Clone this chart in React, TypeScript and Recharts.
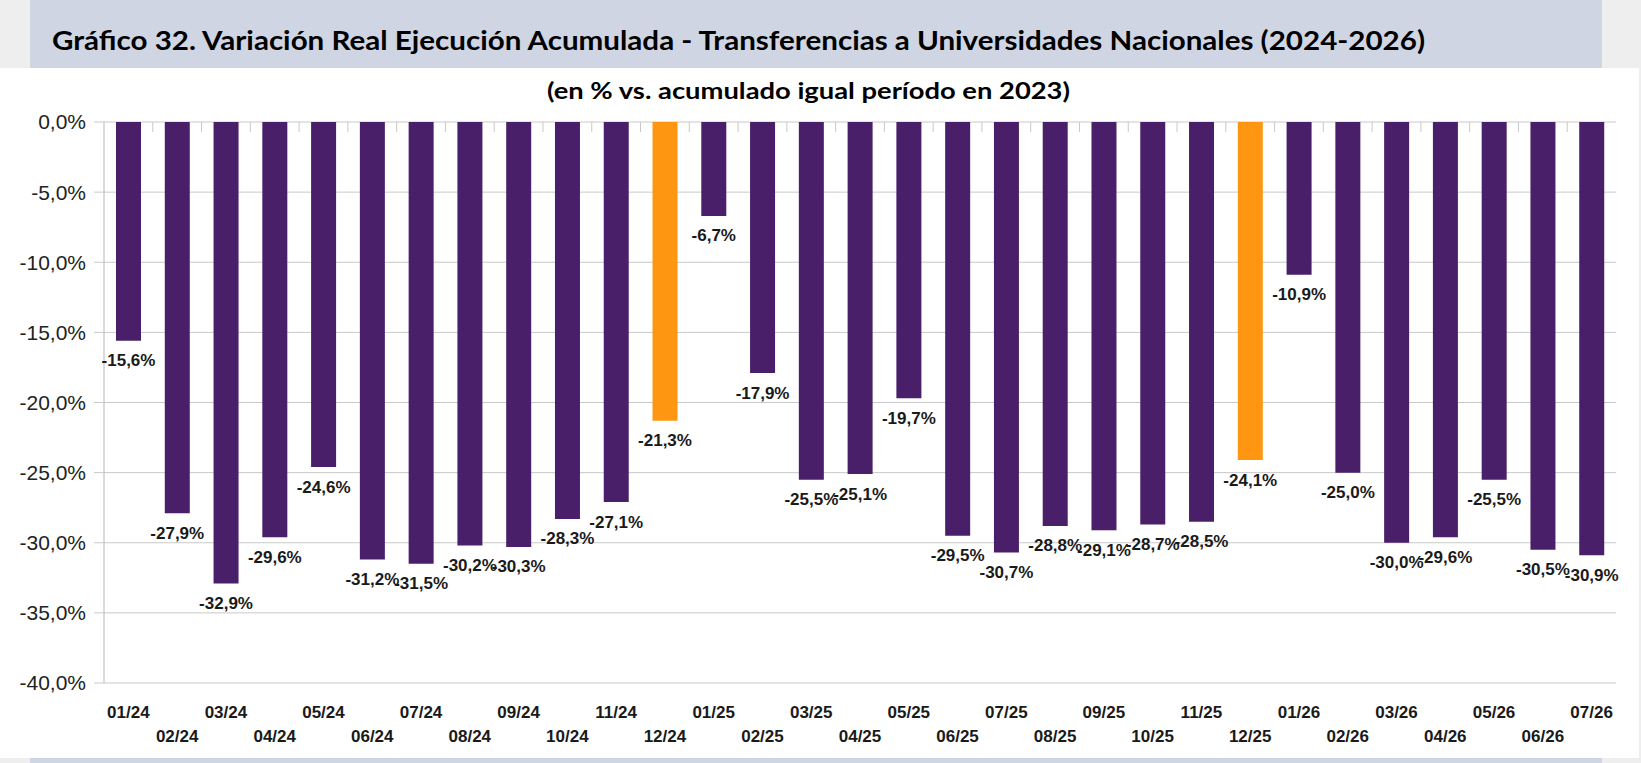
import { BarChart, Bar, XAxis, YAxis, CartesianGrid, Cell, LabelList } from 'recharts';

// Meses (ejecución acumulada)
const months = [
  '01/24', '02/24', '03/24', '04/24', '05/24', '06/24', '07/24', '08/24', '09/24', '10/24', '11/24', '12/24',
  '01/25', '02/25', '03/25', '04/25', '05/25', '06/25', '07/25', '08/25', '09/25', '10/25', '11/25', '12/25',
  '01/26', '02/26', '03/26', '04/26', '05/26', '06/26', '07/26',
];

// Variación real % vs. acumulado igual período 2023
const variation = [
  -15.6, -27.9, -32.9, -29.6, -24.6, -31.2, -31.5, -30.2, -30.3, -28.3, -27.1, -21.3,
  -6.7, -17.9, -25.5, -25.1, -19.7, -29.5, -30.7, -28.8, -29.1, -28.7, -28.5, -24.1,
  -10.9, -25.0, -30.0, -29.6, -25.5, -30.5, -30.9,
];

// Cierres de año (barras naranjas)
const yearEnds = ['12/24', '12/25'];

const yTicks = [0, -5, -10, -15, -20, -25, -30, -35, -40];
const boundaryTicks = months.slice(1).map((_, i) => i + 1);

const PURPLE = '#4a1f6a';
const ORANGE = '#ff9612';
const GRID = '#c9c9c9';

const chartData = months.map((m, i) => ({ month: m, slot: i + 0.5, value: variation[i] }));

const fmt = (v: number) => `${v.toFixed(1).replace('.', ',')}%`;

const MonthTick = (props: any) => {
  const { x, y, payload, index } = props;
  const dy = index % 2 === 0 ? 29 : 53;
  return (
    <text x={x} y={y + dy} textAnchor="middle" dominantBaseline="central" fontSize={17} fontWeight="bold" fill="#1a1a1a">
      {payload.value}
    </text>
  );
};

const ValueLabel = (props: any) => {
  const { x, y, width, height, value } = props;
  const bottom = Math.max(y, y + height);
  return (
    <text x={x + width / 2} y={bottom + 20} textAnchor="middle" dominantBaseline="central" fontSize={17} fontWeight="bold" fill="#1a1a1a">
      {fmt(value)}
    </text>
  );
};

export default function App() {
  return (
    <div style={{ position: 'absolute', top: 0, left: 0, width: 1641, height: 763, background: '#eeeeee', overflow: 'hidden' }}>
      {/* banda del título */}
      <div style={{ position: 'absolute', left: 30, top: 0, width: 1572, height: 68, background: '#cfd5e2' }} />
      <div style={{ position: 'absolute', left: 0, top: 68, width: 1639, height: 690, background: '#ffffff' }} />
      <div style={{ position: 'absolute', left: 30, top: 758, width: 1572, height: 5, background: '#cfd5e2' }} />

      <svg style={{ position: 'absolute', left: 0, top: 0 }} width={1641} height={120}>
        <text x={52} y={49.5} fontFamily="Lato, 'Open Sans', sans-serif" fontWeight="bold" fontSize={26} fill="#000"
          textLength={1373} lengthAdjust="spacingAndGlyphs">
          Gráfico 32. Variación Real Ejecución Acumulada - Transferencias a Universidades Nacionales (2024-2026)
        </text>
        <text x={547} y={99} fontFamily="Lato, 'Open Sans', sans-serif" fontWeight="bold" fontSize={22} fill="#000"
          textLength={523} lengthAdjust="spacingAndGlyphs">
          (en % vs. acumulado igual período en 2023)
        </text>
      </svg>

      <div style={{ position: 'absolute', left: 0, top: 0 }}>
        <BarChart
          width={1641}
          height={763}
          data={chartData}
          margin={{ top: 122, right: 25, bottom: 10, left: 0 }}
          style={{ fontFamily: "'Liberation Sans', Arial, sans-serif" }}
        >
          <CartesianGrid vertical={false} stroke={GRID} />
          <XAxis
            dataKey="month"
            interval={0}
            height={70}
            axisLine={false}
            tickLine={false}
            tickSize={0}
            tickMargin={0}
            tick={<MonthTick />}
          />
          {/* marcas entre categorías sobre la línea del 0% */}
          <XAxis
            xAxisId="marks"
            dataKey="slot"
            type="number"
            orientation="top"
            mirror
            height={2}
            domain={[0, months.length]}
            ticks={boundaryTicks}
            interval={0}
            allowDataOverflow
            axisLine={false}
            tick={() => <g />}
            tickSize={10}
            tickLine={{ stroke: GRID }}
          />
          <YAxis
            width={104}
            domain={[-40, 0]}
            ticks={yTicks}
            interval={0}
            tickSize={10}
            tickMargin={8}
            tickFormatter={fmt}
            axisLine={{ stroke: '#b5b5b5' }}
            tickLine={{ stroke: GRID }}
            tick={{ fontSize: 21, fill: '#222' }}
          />
          <YAxis
            yAxisId="frame"
            orientation="right"
            width={0}
            type="number"
            domain={[-40, 0]}
            tick={false}
            tickLine={false}
            axisLine={{ stroke: '#b5b5b5' }}
          />
          <Bar dataKey="value" barSize={25} isAnimationActive={false}>
            {chartData.map((d) => (
              <Cell key={d.month} fill={yearEnds.includes(d.month) ? ORANGE : PURPLE} />
            ))}
            <LabelList dataKey="value" content={<ValueLabel />} />
          </Bar>
        </BarChart>
      </div>
    </div>
  );
}
